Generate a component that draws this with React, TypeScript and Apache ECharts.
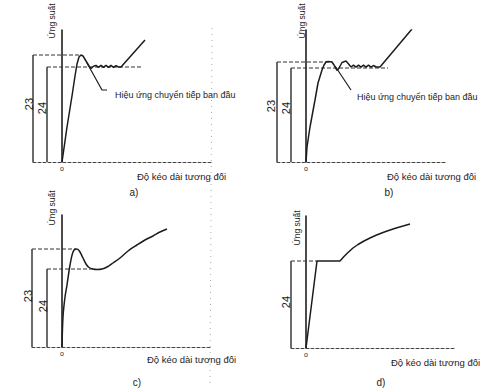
import React, { useEffect, useRef } from "react";
import * as echarts from "echarts";

// ---- data (x: relative elongation, y: stress; arbitrary units) ----
const curveA: [number, number][] = [
  [0, 0], [5, 35], [10, 66], [13, 86], [15, 98], [17, 105], [19, 107], [21, 106], [24, 101],
  [27, 96], [29, 93.5], [31.5, 95.8], [34, 96.6], [36.5, 94.6], [39, 96.6], [41.5, 94.6],
  [44, 96.6], [46.5, 94.6], [49, 96.6], [51.5, 94.6], [54, 96.4], [56.5, 95], [59, 95], [83, 122],
];
const leaderA: [number, number][] = [[25, 99], [40, 72], [45, 72]];
const levelsA = [107, 95]; // 23, 24
const refEndA = [19, 81];

const curveB: [number, number][] = [
  [0, 0], [1, 15], [4, 35], [9, 62], [12, 79], [16, 92], [18, 97], [20, 100], [22, 100.5],
  [26, 100], [28, 97], [31, 91.5], [33, 94], [36, 99.5], [40, 101], [43, 97.5], [45, 95],
  [47.5, 96.8], [50, 94.8], [52.5, 96.8], [55, 94.8], [57.5, 96.8], [60, 94.8], [62.5, 96.8],
  [65, 94.8], [67.5, 96.5], [70, 95], [74, 95], [106, 133],
];
const leaderB: [number, number][] = [[29, 96], [45, 72]];
const levelsB = [100, 94];
const refEndB = [26, 82];

const curveC: [number, number][] = [
  [0, 0], [1, 30], [3, 50], [5, 62], [8, 82], [11, 95], [14, 98], [16, 97.5], [18, 95],
  [21, 89], [24, 83], [27, 79.5], [31, 78], [35, 77.5], [40, 78], [45, 80], [51, 84], [58, 89],
  [66, 96], [75, 102], [83, 107], [91, 111], [98, 115], [105, 118],
];
const levelsC = [98, 78];
const refEndC = [14, 32];

const curveD: [number, number][] = [
  [0, 0], [11, 87], [34, 87], [38, 91.5], [42, 95.5], [47, 100], [52, 103.5], [58, 107],
  [64, 110], [70, 112.8], [77, 115.5], [84, 118], [91, 120.2], [98, 122.2], [104, 124],
];
const levelsD = [87];
const refEndD = [11];

const barLabels = ["23", "24"];
const panelLetters = ["a)", "b)", "c)", "d)"];
const yName = "Ứng suất";
const xName = "Độ kéo dài tương đối";
const noteText = "Hiệu ứng chuyển tiếp ban đầu";

// ---- layout ----
const panels = [
  { left: 33, top: 30, width: 179, height: 132, xmin: -29, xmax: 150, bars: [-29, -15], smooth: false },
  { left: 277, top: 30, width: 170, height: 132, xmin: -29, xmax: 141, bars: [-29, -15], smooth: false },
  { left: 32, top: 215, width: 178, height: 132, xmin: -30, xmax: 148, bars: [-30, -15], smooth: 0.3 },
  { left: 291, top: 216, width: 164, height: 132, xmin: -15, xmax: 149, bars: [-15], smooth: false },
];

const FONT = "'Liberation Sans', Arial, sans-serif";
const INK = "#1c1c1c";

function buildOption() {
  const curves = [curveA, curveB, curveC, curveD];
  const levels = [levelsA, levelsB, levelsC, levelsD];
  const refEnds = [refEndA, refEndB, refEndC, refEndD];
  const leaders = [leaderA, leaderB, null, null];

  const grid = panels.map((p) => ({
    left: p.left, top: p.top, width: p.width, height: p.height,
    containLabel: false, outerBoundsMode: "none",
  }));
  const xAxis = panels.map((p, i) => ({
    type: "value", gridIndex: i, min: p.xmin, max: p.xmax,
    axisLine: { show: true, onZero: true, lineStyle: { color: "#444", width: 1, type: [3, 2] } },
    axisTick: { show: false },
    splitLine: { show: false },
    axisLabel: {
      show: true, customValues: [0], formatter: (v: number) => (v === 0 ? "o" : ""),
      fontSize: 7, margin: 3, color: INK, fontFamily: FONT,
    },
  }));
  const yAxis = panels.map((p, i) => ({
    type: "value", gridIndex: i, min: 0, max: 132,
    axisLine: { show: true, onZero: true, lineStyle: { color: "#111", width: 1.5 } },
    axisTick: { show: false },
    splitLine: { show: false },
    axisLabel: { show: false },
  }));

  const series: any[] = [];
  const line = (i: number, data: any[], style: any, z = 3, smooth: any = false) =>
    series.push({
      type: "line", xAxisIndex: i, yAxisIndex: i, data, showSymbol: false, symbol: "none",
      silent: true, z, lineStyle: style, animation: false, smooth,
    });

  panels.forEach((p, i) => {
    line(i, curves[i], { color: INK, width: 1.5 }, 5, p.smooth);
    levels[i].forEach((lv, k) => {
      const bx = p.bars[k];
      line(i, [[bx, 0], [bx, lv]], { color: INK, width: 1.3 });
      line(i, [[bx, lv], [refEnds[i][k], lv]], { color: "#333", width: 1, type: [4, 2] });
    });
    const ld = leaders[i];
    if (ld) line(i, ld, { color: INK, width: 1.2 });
  });

  const txt = (x: number, y: number, text: string, fontSize: number, extra: any = {}) => ({
    type: "text", x, y, silent: true,
    style: {
      text, fontSize, fontFamily: FONT, fill: INK,
      align: extra.align || "center", verticalAlign: "middle",
    },
    rotation: extra.rotation || 0,
  });
  const R = Math.PI / 2;
  const graphic: any[] = [
    // scan fold line
    { type: "line", silent: true, shape: { x1: 212, y1: 28, x2: 210, y2: 388 },
      style: { stroke: "#aaa", lineWidth: 1, lineDash: [1, 5] } },
    txt(52, 21, yName, 8.5, { rotation: R }),
    txt(302, 21, yName, 8.5, { rotation: R }),
    txt(52, 208, yName, 8.5, { rotation: R }),
    txt(297, 228, yName, 8.5, { rotation: R }),
    txt(29, 104, barLabels[0], 11, { rotation: R }),
    txt(42, 108, barLabels[1], 11, { rotation: R }),
    txt(271, 106, barLabels[0], 11, { rotation: R }),
    txt(286, 108, barLabels[1], 11, { rotation: R }),
    txt(28, 296, barLabels[0], 11, { rotation: R }),
    txt(43, 306, barLabels[1], 11, { rotation: R }),
    txt(286, 302, barLabels[1], 11, { rotation: R }),
    txt(137, 176, xName, 9.5, { align: "left" }),
    txt(387, 176, xName, 9.5, { align: "left" }),
    txt(147, 359, xName, 9.5, { align: "left" }),
    txt(391, 362, xName, 9.5, { align: "left" }),
    txt(134, 192, panelLetters[0], 10),
    txt(389, 192, panelLetters[1], 10),
    txt(137, 382, panelLetters[2], 10),
    txt(381, 382, panelLetters[3], 10),
    txt(115, 95, noteText, 9, { align: "left" }),
    txt(357, 97, noteText, 9, { align: "left" }),
  ];

  return {
    animation: false,
    backgroundColor: "#ffffff",
    grid, xAxis, yAxis, series, graphic,
  };
}

export default function App() {
  const ref = useRef<HTMLDivElement>(null);
  useEffect(() => {
    const chart = echarts.init(ref.current!, null, { renderer: "svg" });
    chart.setOption(buildOption() as any);
    return () => chart.dispose();
  }, []);
  return (
    <div
      ref={ref}
      style={{ position: "fixed", left: 0, top: 0, width: 504, height: 390, background: "#fff" }}
    />
  );
}
